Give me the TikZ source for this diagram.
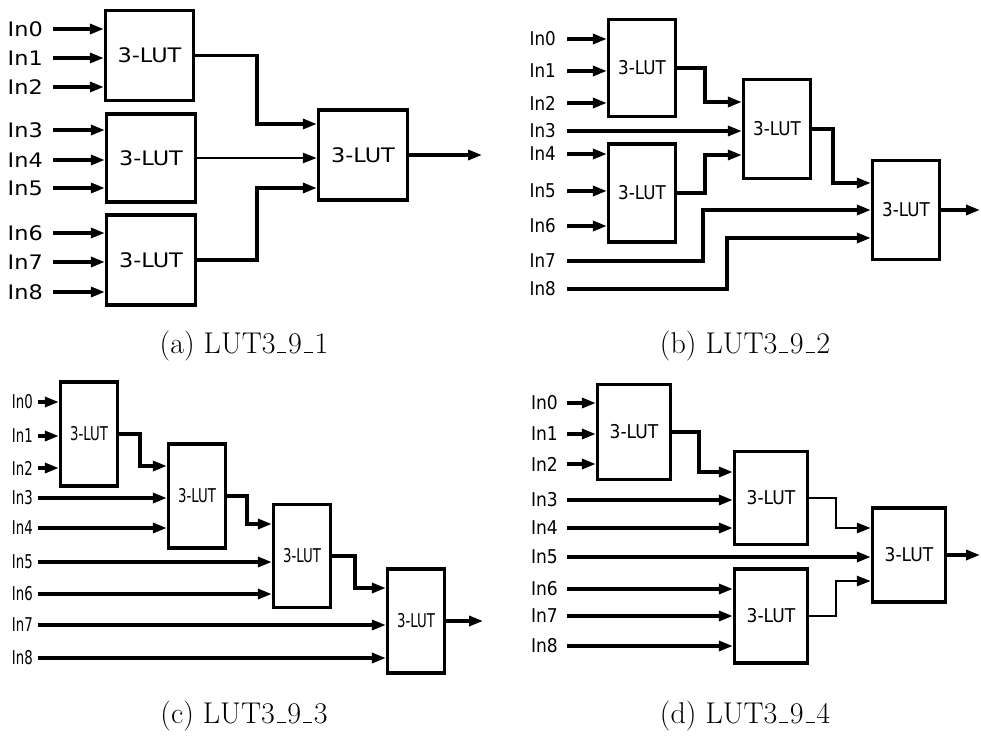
\documentclass[tikz,border=0pt]{standalone}
\usepackage{fontspec}
\newfontfamily\fontA[FakeStretch=1.12]{DejaVu Sans}
\newfontfamily\fontB[FakeStretch=0.88]{DejaVu Sans}
\newfontfamily\fontC[FakeStretch=0.70]{DejaVu Sans}
\newfontfamily\fontD[FakeStretch=0.90]{DejaVu Sans}
\newcommand\us{\leavevmode\kern.06em\vbox{\hrule width.3em height 1.1pt}\kern.06em}
\usetikzlibrary{arrows.meta}
\begin{document}
\begin{tikzpicture}[x=1pt,y=-1pt,
  lut/.style 2 args={draw,line width=3.4pt,minimum width=#1,minimum height=#2,inner sep=0pt},
  lbl/.style={anchor=east,inner xsep=#1,inner ysep=0pt},
  wire/.style={line width=3.3pt,-{Triangle[length=14pt,width=10pt]}},
  thinwire/.style={line width=2.6pt,-{Triangle[length=14pt,width=10pt]}},
  subcap/.style={font=\fontsize{30}{36}\selectfont}]
  \useasboundingbox (0,0) rectangle (981,738);
  % (a) two levels
  \begin{scope}[font=\fontA\fontsize{20}{24}\selectfont]
    \node[lut={88pt}{90pt}] (lutA1) at (149.5,55.5) {3-LUT};
    \node[lut={89pt}{88pt}] (lutA2) at (151,158) {3-LUT};
    \node[lut={89pt}{90pt}] (lutA3) at (151,260) {3-LUT};
    \node[lut={89pt}{90pt}] (lutA4) at (363,155) {3-LUT};
    \foreach \i/\y/\b in {0/29/1,1/58/1,2/87/1,3/130/2,4/160/2,5/188/2,6/233/3,7/262/3,8/292/3}{
      \node[lbl=10pt] (inA\i) at (53,\y) {In\i};
      \draw[wire] (inA\i.east) -- (inA\i -| lutA\b.west);
    }
    \draw[wire] (lutA1.east) -| (257,124) -- (lutA4.west |- 257,124);
    \draw[thinwire] (lutA2.east) -- (lutA2.east -| lutA4.west);
    \draw[wire] (lutA3.east) -| (257,188) -- (lutA4.west |- 257,188);
    \coordinate (outA) at (482,155);
    \draw[wire] (lutA4.east) -- (outA);
  \end{scope}
  \node[subcap] (capA) at (244,346) {(a) LUT3\us9\us1};
  % (b) three levels
  \begin{scope}[font=\fontB\fontsize{19}{22}\selectfont]
    \node[lut={67pt}{97pt}] (lutB1) at (642,68) {3-LUT};
    \node[lut={67pt}{98pt}] (lutB2) at (642,193) {3-LUT};
    \node[lut={67pt}{99pt}] (lutB3) at (777,129) {3-LUT};
    \node[lut={67pt}{99pt}] (lutB4) at (906,210) {3-LUT};
    \foreach \i/\y/\b in {0/39/1,1/71/1,2/103/1,3/131/3,4/154/2,5/191/2,6/226/2}{
      \node[lbl=11pt] (inB\i) at (567,\y) {In\i};
      \draw[wire] (inB\i.east) -- (inB\i -| lutB\b.west);
    }
    \node[lbl=11pt] (inB7) at (567,261) {In7};
    \node[lbl=11pt] (inB8) at (567,289) {In8};
    \draw[wire] (lutB1.east) -| (705,102) -- (lutB3.west |- 705,102);
    \draw[wire] (lutB2.east) -| (705,155) -- (lutB3.west |- 705,155);
    \draw[wire] (lutB3.east) -| (833,183) -- (lutB4.west |- 833,183);
    \draw[wire] (inB7.east) -| (703,210) -- (lutB4.west |- 703,210);
    \draw[wire] (inB8.east) -| (727,238) -- (lutB4.west |- 727,238);
    \coordinate (outB) at (980,210);
    \draw[wire] (lutB4.east) -- (outB);
  \end{scope}
  \node[subcap] (capB) at (745,346) {(b) LUT3\us9\us2};
  % (c) chain of four
  \begin{scope}[font=\fontC\fontsize{19}{22}\selectfont]
    \node[lut={57pt}{104pt}] (lutC1) at (89,434) {3-LUT};
    \node[lut={57pt}{104pt}] (lutC2) at (197,496) {3-LUT};
    \node[lut={57pt}{103pt}] (lutC3) at (302,556) {3-LUT};
    \node[lut={57pt}{104pt}] (lutC4) at (416,621) {3-LUT};
    \foreach \i/\y/\b in {0/402/1,1/436/1,2/468/1,3/498/2,4/528/2,5/562/3,6/594/3,7/625/4,8/658/4}{
      \node[lbl=5pt] (inC\i) at (38,\y) {In\i};
      \draw[wire] (inC\i.east) -- (inC\i -| lutC\b.west);
    }
    \draw[wire] (lutC1.east) -| (140,466) -- (lutC2.west |- 140,466);
    \draw[wire] (lutC2.east) -| (247,524) -- (lutC3.west |- 247,524);
    \draw[wire] (lutC3.east) -| (355,588) -- (lutC4.west |- 355,588);
    \coordinate (outC) at (483,621);
    \draw[wire] (lutC4.east) -- (outC);
  \end{scope}
  \node[subcap] (capC) at (244,716) {(c) LUT3\us9\us3};
  % (d) mixed
  \begin{scope}[font=\fontD\fontsize{19}{22}\selectfont]
    \node[lut={73pt}{95pt}] (lutD1) at (634,432) {3-LUT};
    \node[lut={73pt}{93pt}] (lutD2) at (771,498) {3-LUT};
    \node[lut={73pt}{94pt}] (lutD3) at (771,616) {3-LUT};
    \node[lut={73pt}{94pt}] (lutD4) at (909,555) {3-LUT};
    \foreach \i/\y/\b in {0/403/1,1/434/1,2/464/1,3/500/2,4/528/2,5/557/4,6/589/3,7/616/3,8/646/3}{
      \node[lbl=9pt] (inD\i) at (567,\y) {In\i};
      \draw[wire] (inD\i.east) -- (inD\i -| lutD\b.west);
    }
    \draw[wire] (lutD1.east) -| (699,472) -- (lutD2.west |- 699,472);
    \draw[thinwire] (lutD2.east) -| (836,528) -- (lutD4.west |- 836,528);
    \draw[thinwire] (lutD3.east) -| (836,581) -- (lutD4.west |- 836,581);
    \coordinate (outD) at (980,555);
    \draw[wire] (lutD4.east) -- (outD);
  \end{scope}
  \node[subcap] (capD) at (745,716) {(d) LUT3\us9\us4};
\end{tikzpicture}
\end{document}
